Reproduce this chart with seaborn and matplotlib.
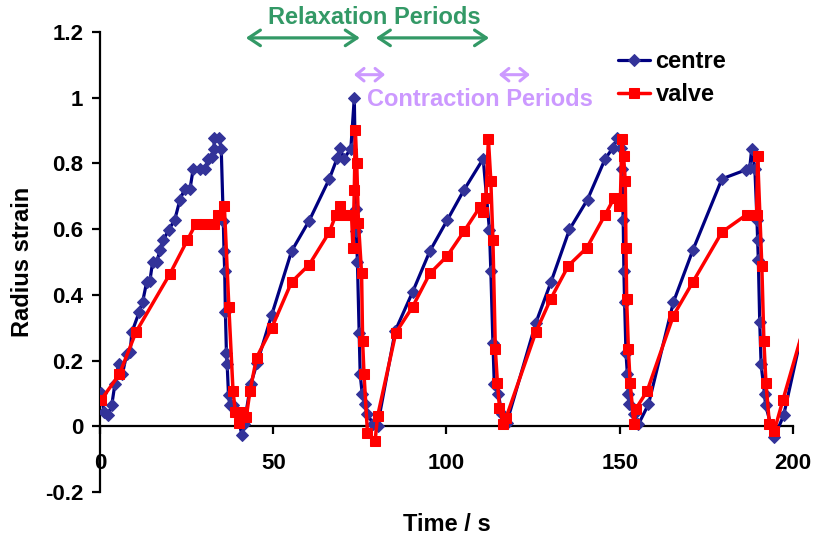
import matplotlib
matplotlib.use("Agg")
import matplotlib.pyplot as plt
import seaborn as sns
import pandas as pd

# ---------------- data ----------------
centre_t = [0.3, 1.2, 2.4, 3.4, 4.3, 5.4, 6.5, 7.7, 8.7, 9.2, 11.3, 12.3, 13.5, 14.4, 15.2, 16.4,
            17.3, 18.3, 19.8, 21.6, 23.1, 24.5, 26.0, 26.9, 28.9, 30.3, 31.3, 32.3, 32.9, 33.0,
            34.4, 35.0, 35.6, 35.8, 36.0, 36.2, 36.5, 36.7, 37.1, 37.5, 38.5, 39.4, 41.0, 41.6,
            43.5, 45.4, 49.6, 55.3, 60.4, 66.2, 68.5, 69.3, 70.4, 72.4, 73.4, 73.9, 74.0, 74.3,
            74.8, 75.1, 75.7, 76.5, 77.2, 78.9, 80.1, 85.2, 90.2, 95.2, 100.2, 105.1, 110.6,
            112.4, 112.8, 113.4, 113.8, 115.0, 116.0, 117.4, 125.8, 130.2, 135.5, 140.7, 145.8,
            148.0, 149.3, 150.3, 150.6, 151.0, 151.2, 151.4, 151.8, 152.2, 152.5, 152.8, 154.1,
            155.4, 158.3, 165.5, 171.1, 179.5, 186.3, 187.5, 188.1, 189.0, 189.6, 189.8, 190.0,
            190.4, 190.8, 191.8, 192.1, 194.6, 197.3, 205.0]
centre_y = [0.10, 0.043, 0.033, 0.064, 0.128, 0.19, 0.16, 0.219, 0.225, 0.286, 0.347, 0.378, 0.44,
            0.442, 0.50, 0.50, 0.535, 0.568, 0.596, 0.629, 0.69, 0.723, 0.723, 0.783, 0.783, 0.783,
            0.814, 0.82, 0.844, 0.877, 0.877, 0.844, 0.624, 0.533, 0.472, 0.347, 0.222, 0.191,
            0.094, 0.064, 0.064, 0.043, -0.027, 0.006, 0.128, 0.194, 0.34, 0.533, 0.626, 0.753,
            0.817, 0.847, 0.814, 0.845, 1.0, 0.662, 0.594, 0.50, 0.285, 0.158, 0.097, 0.067,
            0.036, 0.006, 0.001, 0.29, 0.408, 0.533, 0.627, 0.72, 0.814, 0.597, 0.472, 0.254,
            0.128, 0.097, 0.036, 0.011, 0.315, 0.44, 0.599, 0.69, 0.814, 0.847, 0.877, 0.847,
            0.783, 0.629, 0.472, 0.378, 0.224, 0.158, 0.097, 0.067, 0.036, 0.006, 0.067, 0.378,
            0.536, 0.753, 0.78, 0.785, 0.845, 0.783, 0.629, 0.566, 0.505, 0.317, 0.188, 0.097,
            0.064, -0.034, 0.033, 0.40]

valve_t = [0.3, 5.6, 10.4, 20.2, 25.2, 27.7, 30.3, 32.9, 34.1, 35.9, 37.2, 38.4, 39.1, 40.2, 41.4,
           42.2, 43.3, 45.2, 49.6, 55.3, 60.4, 66.2, 68.1, 69.3, 71.0, 72.6, 73.0, 73.4, 73.7,
           74.1, 74.6, 75.5, 75.8, 76.2, 77.2, 79.4, 80.1, 85.4, 90.2, 95.2, 100.2, 105.1, 109.7,
           110.6, 111.4, 112.1, 112.8, 113.4, 114.1, 114.7, 115.3, 116.4, 117.2, 125.8, 130.1,
           135.2, 140.5, 145.8, 148.4, 149.9, 150.2, 150.6, 151.1, 151.6, 151.8, 152.0, 152.5,
           153.0, 154.1, 154.7, 157.9, 165.5, 171.1, 179.5, 186.6, 189.5, 189.8, 191.0, 191.6,
           192.2, 193.2, 194.6, 197.1, 205.0]
valve_y = [0.08, 0.158, 0.287, 0.464, 0.566, 0.617, 0.617, 0.617, 0.644, 0.67, 0.363, 0.107, 0.042,
           0.011, 0.042, 0.027, 0.107, 0.209, 0.30, 0.439, 0.492, 0.591, 0.644, 0.67, 0.644, 0.644,
           0.543, 0.72, 0.903, 0.801, 0.619, 0.465, 0.259, 0.158, -0.019, -0.045, 0.03, 0.285,
           0.363, 0.465, 0.518, 0.594, 0.668, 0.651, 0.695, 0.874, 0.746, 0.568, 0.234, 0.133,
           0.057, 0.006, 0.026, 0.287, 0.388, 0.489, 0.543, 0.644, 0.695, 0.67, 0.692, 0.874,
           0.824, 0.746, 0.543, 0.386, 0.234, 0.133, 0.006, 0.054, 0.107, 0.337, 0.439, 0.591,
           0.644, 0.644, 0.822, 0.489, 0.259, 0.131, 0.006, -0.014, 0.08, 0.37]

x_ticks = [0, 50, 100, 150, 200]
y_ticks = [-0.2, 0, 0.2, 0.4, 0.6, 0.8, 1.0, 1.2]
y_tick_labels = ["-0.2", "0", "0.2", "0.4", "0.6", "0.8", "1", "1.2"]

# ---------------- style ----------------
sns.set_style("white")
plt.rcParams["font.family"] = ["Liberation Sans", "DejaVu Sans"]
plt.rcParams["font.weight"] = "bold"
plt.rcParams["text.color"] = "black"
plt.rcParams["axes.labelcolor"] = "black"
plt.rcParams["xtick.color"] = "black"
plt.rcParams["ytick.color"] = "black"

fig = plt.figure(figsize=(8.16, 5.41), dpi=100)
ax = fig.add_axes([0.1225, 0.0906, 0.8561, 0.8503])

centre_df = pd.DataFrame({"t": centre_t, "y": centre_y})
valve_df = pd.DataFrame({"t": valve_t, "y": valve_y})

sns.lineplot(data=centre_df, x="t", y="y", sort=False, estimator=None, ax=ax,
             color="#000080", lw=2.3, marker="D", markersize=6.5,
             markerfacecolor="#333399", markeredgecolor="#333399", label="centre", zorder=3)
sns.lineplot(data=valve_df, x="t", y="y", sort=False, estimator=None, ax=ax,
             color="#FF0000", lw=2.5, marker="s", markersize=7.5,
             markerfacecolor="#FF0000", markeredgecolor="#FF0000", label="valve", zorder=4)

ax.set_xlim(0, 201.6)
ax.set_ylim(-0.2, 1.2)

for s in ["top", "right"]:
    ax.spines[s].set_visible(False)
ax.spines["bottom"].set_position(("data", 0))
ax.spines["bottom"].set_bounds(0, 200)
for s in ["left", "bottom"]:
    ax.spines[s].set_linewidth(1.6)
    ax.spines[s].set_color("black")

ax.set_xticks(x_ticks)
ax.set_xticklabels([str(v) for v in x_ticks])
ax.set_yticks(y_ticks)
ax.set_yticklabels(y_tick_labels)
ax.tick_params(axis="x", direction="out", length=6, width=1.6, pad=13, labelsize=16,
               colors="black")
ax.tick_params(axis="y", direction="out", length=6, width=1.6, pad=6, labelsize=16,
               colors="black")
ax.tick_params(left=True, bottom=True)
for lab in ax.get_xticklabels() + ax.get_yticklabels():
    lab.set_fontweight("bold")

ax.set_xlabel("Time / s", fontsize=17, fontweight="bold", color="black")
ax.set_ylabel("Radius strain", fontsize=17, fontweight="bold", color="black")
ax.xaxis.set_label_coords(0.497, -0.045)
ax.yaxis.set_label_coords(-0.094, 0.5)
ax.grid(False)

leg = ax.legend(loc="upper left", bbox_to_anchor=(0.757, 0.907), bbox_transform=fig.transFigure,
                frameon=False, borderpad=0, borderaxespad=0, handlelength=1.35,
                handletextpad=0.25, labelspacing=0.42, prop={"size": 17, "weight": "bold"})
for txt in leg.get_texts():
    txt.set_color("black")

# annotations
green = "#339966"
purple = "#CC99FF"
green_arrow = dict(arrowstyle="<->,head_length=0.6,head_width=0.4", lw=2.3, mutation_scale=14,
                   shrinkA=0, shrinkB=0, color=green)
purple_arrow = dict(arrowstyle="<->,head_length=0.55,head_width=0.45", lw=2.2, mutation_scale=10,
                    shrinkA=0, shrinkB=0, color=purple)
ax.annotate("", xy=(42.1, 1.182), xytext=(75.0, 1.182), annotation_clip=False,
            arrowprops=green_arrow)
ax.annotate("", xy=(79.6, 1.182), xytext=(112.3, 1.182), annotation_clip=False,
            arrowprops=green_arrow)
ax.text(79.1, 1.243, "Relaxation Periods", color=green, fontsize=17, fontweight="bold",
        ha="center", va="center", clip_on=False)
ax.annotate("", xy=(73.3, 1.07), xytext=(82.3, 1.07), annotation_clip=False,
            arrowprops=purple_arrow)
ax.annotate("", xy=(115.1, 1.07), xytext=(124.1, 1.07), annotation_clip=False,
            arrowprops=purple_arrow)
ax.text(109.7, 0.994, "Contraction Periods", color=purple, fontsize=17, fontweight="bold",
        ha="center", va="center", clip_on=False)

fig.savefig("out.png", dpi=100)
